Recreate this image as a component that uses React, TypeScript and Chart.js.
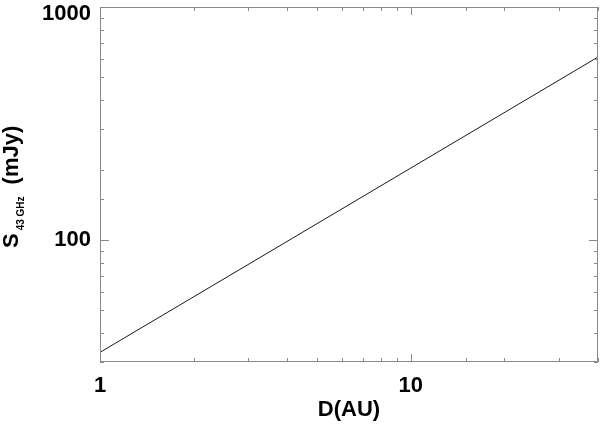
import React, { useEffect, useRef } from "react";
import { Chart, registerables } from "chart.js";

Chart.register(...registerables);

// Data (log-log power law)
const distanceAU: number[] = [1, 40];
const fluxMJy: number[] = [33, 610];
const xTickLabels: number[] = [1, 10];
const yTickLabels: number[] = [100, 1000];

const FONT = "'Liberation Sans', Arial, Helvetica, sans-serif";

const isDecade = (v: number) => {
  const l = Math.log10(v);
  return Math.abs(l - Math.round(l)) < 1e-9;
};

const framePlugin = {
  id: "idlFrame",
  afterDraw(chart: any) {
    const { ctx, chartArea } = chart;
    const { left, right, top, bottom } = chartArea;
    const xs = chart.scales.x;
    const ys = chart.scales.y;
    ctx.save();
    ctx.strokeStyle = "#8a8a8a";
    ctx.lineWidth = 1;
    ctx.beginPath();
    ctx.rect(Math.round(left) + 0.5, Math.round(top) + 0.5, Math.round(right - left) - 1, Math.round(bottom - top) - 1);
    ctx.stroke();
    ctx.beginPath();
    for (const t of xs.ticks) {
      const px = Math.round(xs.getPixelForValue(t.value)) + 0.5;
      const len = isDecade(t.value) ? 8 : 4;
      ctx.moveTo(px, bottom);
      ctx.lineTo(px, bottom - len);
      ctx.moveTo(px, top);
      ctx.lineTo(px, top + len);
    }
    for (const t of ys.ticks) {
      const py = Math.round(ys.getPixelForValue(t.value)) + 0.5;
      const len = isDecade(t.value) ? 9 : 4;
      ctx.moveTo(left, py);
      ctx.lineTo(left + len, py);
      ctx.moveTo(right, py);
      ctx.lineTo(right - len, py);
    }
    ctx.stroke();

    // Y axis title with subscript
    ctx.translate(18, 248);
    ctx.rotate(-Math.PI / 2);
    ctx.fillStyle = "#000";
    ctx.textAlign = "left";
    ctx.textBaseline = "alphabetic";
    ctx.font = `bold 22px ${FONT}`;
    ctx.fillText("S", 0, 0);
    const wS = ctx.measureText("S").width;
    ctx.font = `bold 10px ${FONT}`;
    const sub = "43 GHz";
    ctx.fillText(sub, wS + 3, 6);
    const wSub = ctx.measureText(sub).width;
    ctx.font = `bold 22px ${FONT}`;
    ctx.fillText("(mJy)", wS + 3 + wSub + 12, 0);
    ctx.restore();
  },
};

const zeroPad = (s: any) => {
  s.paddingTop = 0;
  s.paddingBottom = 0;
  s.paddingLeft = 0;
  s.paddingRight = 0;
};

export default function App() {
  const ref = useRef<HTMLCanvasElement>(null);

  useEffect(() => {
    if (!ref.current) return;
    const points = distanceAU.map((d, i) => ({ x: d, y: fluxMJy[i] }));
    const topY = yTickLabels[yTickLabels.length - 1];
    const chart = new Chart(ref.current, {
      type: "line",
      data: {
        datasets: [
          {
            data: points,
            borderColor: "#1a1a1a",
            borderWidth: 1,
            pointRadius: 0,
            tension: 0,
            fill: false,
          },
        ],
      },
      options: {
        animation: false,
        responsive: false,
        devicePixelRatio: 1,
        layout: { padding: { top: 7, right: 2, left: 0, bottom: 0 } },
        plugins: {
          legend: { display: false },
          tooltip: { enabled: false },
        },
        scales: {
          x: {
            type: "logarithmic",
            position: "bottom",
            min: 1,
            max: 40,
            grid: { display: false, drawTicks: false },
            border: { display: false },
            ticks: {
              autoSkip: false,
              maxRotation: 0,
              padding: 11,
              color: "#000",
              font: { family: FONT, size: 22, weight: "bold" },
              callback: (v: any) => (xTickLabels.includes(Number(v)) ? String(v) : ""),
            },
            title: {
              display: true,
              text: "D(AU)",
              color: "#000",
              font: { family: FONT, size: 22, weight: "bold" },
              padding: { top: 0, bottom: 2 },
            },
            afterFit: (s: any) => {
              s.height = 63;
              zeroPad(s);
            },
          },
          y: {
            type: "logarithmic",
            position: "left",
            min: 30,
            max: 1000,
            grid: { display: false, drawTicks: false },
            border: { display: false },
            ticks: {
              autoSkip: false,
              padding: 9,
              color: "#000",
              font: (c: any) => ({
                family: FONT,
                size: 22,
                weight: "bold",
                lineHeight: c && c.tick && c.tick.value === topY ? "14px" : 1.2,
              }),
              callback: (v: any) => {
                const n = Number(v);
                if (!yTickLabels.includes(n)) return "";
                return n === topY ? ["", String(n)] : String(n);
              },
            },
            afterFit: (s: any) => {
              s.width = 100;
              zeroPad(s);
            },
          },
        },
      },
      plugins: [framePlugin],
    });
    return () => chart.destroy();
  }, []);

  return (
    <div style={{ position: "fixed", left: 0, top: 0, width: 600, height: 425, background: "#fff" }}>
      <canvas ref={ref} width={600} height={425} style={{ display: "block" }} />
    </div>
  );
}
